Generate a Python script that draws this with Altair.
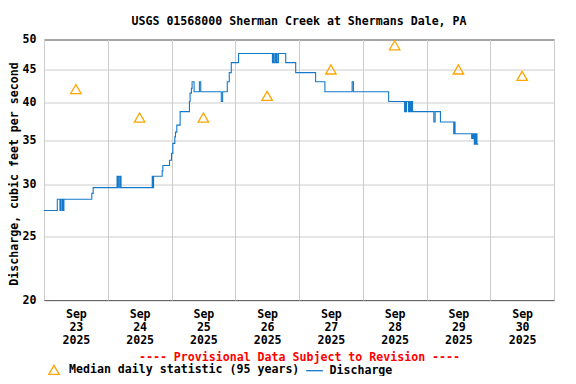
import altair as alt
import pandas as pd

# ---- Discharge (ft3/s), step points ----
q_time = [
    "2025-09-23T00:00", "2025-09-23T05:00", "2025-09-23T06:00", "2025-09-23T06:15",
    "2025-09-23T06:45", "2025-09-23T07:00", "2025-09-23T07:15", "2025-09-23T07:30",
    "2025-09-23T18:00", "2025-09-23T18:30",
    "2025-09-24T03:30", "2025-09-24T03:45", "2025-09-24T04:00", "2025-09-24T04:30",
    "2025-09-24T04:45", "2025-09-24T05:00", "2025-09-24T16:45", "2025-09-24T17:00",
    "2025-09-24T17:15", "2025-09-24T20:30", "2025-09-24T20:45", "2025-09-24T23:15",
    "2025-09-25T00:00", "2025-09-25T00:30", "2025-09-25T01:15", "2025-09-25T01:30",
    "2025-09-25T02:00", "2025-09-25T03:15", "2025-09-25T06:45", "2025-09-25T07:00",
    "2025-09-25T07:30", "2025-09-25T07:45", "2025-09-25T08:30", "2025-09-25T10:30",
    "2025-09-25T11:00", "2025-09-25T18:45", "2025-09-25T19:15", "2025-09-25T21:00",
    "2025-09-25T21:45", "2025-09-25T22:30",
    "2025-09-26T01:15", "2025-09-26T14:00", "2025-09-26T14:15", "2025-09-26T14:30",
    "2025-09-26T15:00", "2025-09-26T15:15", "2025-09-26T15:30", "2025-09-26T15:45",
    "2025-09-26T16:15", "2025-09-26T19:00", "2025-09-26T22:45",
    "2025-09-27T06:15", "2025-09-27T09:45", "2025-09-27T20:00", "2025-09-27T20:30",
    "2025-09-28T09:45", "2025-09-28T15:45", "2025-09-28T16:00", "2025-09-28T16:15",
    "2025-09-28T16:30", "2025-09-28T17:15", "2025-09-28T17:30", "2025-09-28T17:45",
    "2025-09-28T18:00", "2025-09-28T18:15", "2025-09-28T18:30", "2025-09-28T18:45",
    "2025-09-29T02:45", "2025-09-29T03:15", "2025-09-29T05:15", "2025-09-29T10:15",
    "2025-09-29T10:30", "2025-09-29T10:45", "2025-09-29T17:00", "2025-09-29T17:15",
    "2025-09-29T17:30", "2025-09-29T17:45", "2025-09-29T18:00", "2025-09-29T18:15",
    "2025-09-29T18:30", "2025-09-29T18:45", "2025-09-29T19:00", "2025-09-29T19:30",
]
q_value = [
    27.4, 28.5, 27.4, 28.5,
    27.4, 28.5, 27.4, 28.5,
    29.1, 29.7,
    30.9, 29.7, 30.9, 29.7,
    30.9, 29.7, 30.9, 29.7,
    30.9, 31.5, 32.1, 32.7,
    33.5, 34.7, 35.5, 36.1,
    37.0, 38.8, 40.2, 41.4,
    42.1, 43.1, 41.6, 43.1,
    41.6, 40.2, 41.6, 43.1,
    44.5, 46.1,
    47.6, 46.1, 47.6, 46.1,
    47.6, 46.1, 47.6, 46.1,
    47.6, 46.1, 44.5,
    43.1, 41.6, 43.1, 41.6,
    40.2, 38.8, 40.2, 38.8,
    40.2, 38.8, 40.2, 38.8,
    40.2, 38.8, 40.2, 38.8,
    37.4, 38.8, 37.4, 35.9,
    37.4, 35.9, 35.3, 35.9,
    35.3, 35.9, 34.6, 35.9,
    34.6, 35.9, 34.6, 34.6,
]

# ---- Median daily statistic (95 years) ----
median_time = [
    "2025-09-23T12:00", "2025-09-24T12:00", "2025-09-25T12:00", "2025-09-26T12:00",
    "2025-09-27T12:00", "2025-09-28T12:00", "2025-09-29T12:00", "2025-09-30T12:00",
]
median_value = [42, 38, 38, 41, 45, 49, 45, 44]

y_ticks = [20, 25, 30, 35, 40, 45, 50]
series_names = ["Median daily statistic (95 years)", "Discharge"]
days = [23, 24, 25, 26, 27, 28, 29, 30]

q_df = pd.DataFrame({"time": q_time, "q": q_value})
m_df = pd.DataFrame({"time": median_time, "q": median_value,
                     "series": series_names[0]})

FONT = "DejaVu Sans Mono"
BLUE = "#1479c9"
ORANGE = "#ffa500"

x_values = ([alt.DateTime(year=2025, month=9, date=d, hours=0) for d in days]
            + [alt.DateTime(year=2025, month=10, date=1, hours=0)]
            + [alt.DateTime(year=2025, month=9, date=d, hours=12) for d in days])

x_enc = alt.X(
    "time:T",
    scale=alt.Scale(domain=[alt.DateTime(year=2025, month=9, date=23, hours=0),
                            alt.DateTime(year=2025, month=10, date=1, hours=0)]),
    axis=alt.Axis(
        values=x_values,
        labelExpr="hours(datum.value) == 12 ? [timeFormat(datum.value, '%b'), "
                  "timeFormat(datum.value, '%d'), timeFormat(datum.value, '%Y')] : ''",
        gridOpacity={"condition": {"test": "hours(datum.value) == 12", "value": 0},
                     "value": 1},
        ticks=False,
        domain=False,
        labelOverlap=False,
        labelBound=False,
        labelFlush=False,
        labelPadding=8,
        labelLineHeight=13,
        labelAlign="center",
        title="---- Provisional Data Subject to Revision ----",
        titleColor="#ff0000",
        titleY=57.5,
        titleBaseline="middle",
    ),
)

y_enc = alt.Y(
    "q:Q",
    scale=alt.Scale(type="log", domain=[20, 50]),
    axis=alt.Axis(
        values=y_ticks,
        ticks=False,
        domain=False,
        labelPadding=8,
        title="Discharge, cubic feet per second",
        titleX=-30,
        titleY=134,
        titleAlign="center",
        titleBaseline="middle",
        titleAngle=270,
    ),
)

line = alt.Chart(q_df).mark_line(
    interpolate="step-after", color=BLUE, strokeWidth=1.1
).encode(x=x_enc, y=y_enc)

legend_cfg = alt.Legend(
    title=None,
    orient="none",
    legendX=4,
    legendY=324,
    direction="horizontal",
    labelFont=FONT,
    labelFontWeight="bold",
    labelFontSize=11.6,
    labelColor="#000000",
    labelLimit=400,
    labelOffset=9,
    columnPadding=3.5,
    symbolSize=110,
    symbolStrokeWidth=1.3,
    symbolFillColor="transparent",
)

points = alt.Chart(m_df).mark_point(
    filled=False, strokeWidth=1.3, opacity=1, size=110
).encode(
    x=x_enc,
    y=y_enc,
    color=alt.Color("series:N", scale=alt.Scale(domain=series_names, range=[ORANGE, BLUE]),
                    legend=legend_cfg),
    shape=alt.Shape("series:N", scale=alt.Scale(domain=series_names,
                                                range=["triangle-up", "M-1.6,0H1.6"]),
                    legend=legend_cfg),
)

chart = alt.layer(line, points).properties(
    width=510,
    height=260.5,
    background="#ffffff",
    autosize=alt.AutoSizeParams(type="none"),
    padding={"left": 36, "top": 31.5, "right": 14, "bottom": 76},
    title=alt.TitleParams(
        "USGS 01568000 Sherman Creek at Shermans Dale, PA",
        font=FONT, fontSize=11.6, fontWeight="bold", color="#000000",
        anchor="middle", baseline="bottom", offset=8, dy=13,
    ),
).configure_view(
    stroke="#000000", strokeWidth=1
).configure_axis(
    gridColor="#cccccc",
    gridWidth=1,
    labelFont=FONT,
    labelFontWeight="bold",
    labelFontSize=11.6,
    labelColor="#000000",
    titleFont=FONT,
    titleFontWeight="bold",
    titleFontSize=11.6,
    titleColor="#000000",
)

chart.save("out.html", embed_options={"renderer": "svg", "actions": False})
